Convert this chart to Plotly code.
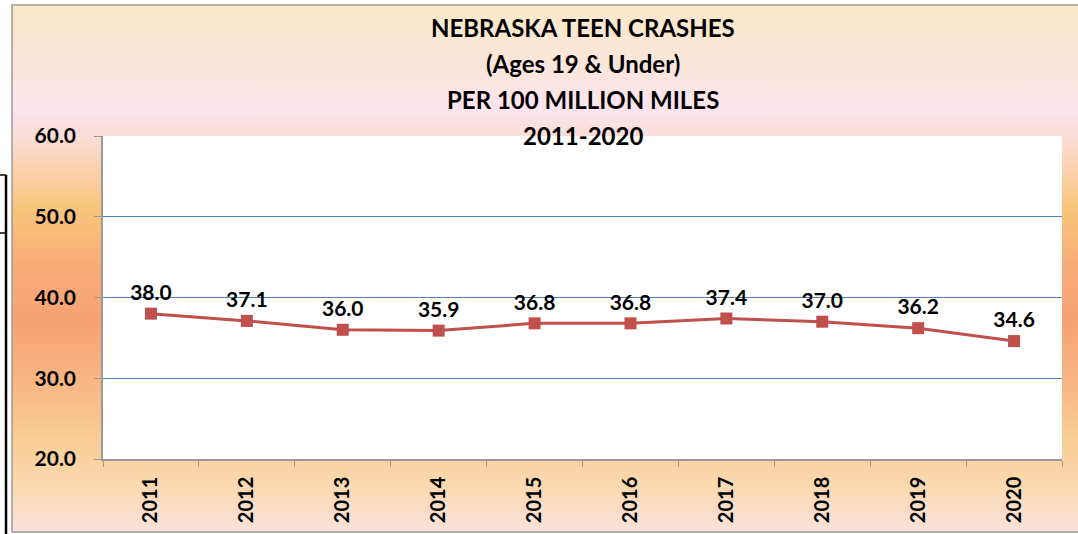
import base64
import plotly.graph_objects as go

years = ["2011", "2012", "2013", "2014", "2015", "2016", "2017", "2018", "2019", "2020"]
rates = [38.0, 37.1, 36.0, 35.9, 36.8, 36.8, 37.4, 37.0, 36.2, 34.6]
title_lines = ["NEBRASKA TEEN CRASHES", "(Ages 19 & Under)", "PER 100 MILLION MILES", "2011-2020"]
y_ticks = [20, 30, 40, 50, 60]

W, H = 1078, 534
L, R, T, B = 103, 16, 136, 75
PW, PH = W - L - R, H - T - B

def px(x):
    return (x - L) / PW

def py(y):
    return (H - B - y) / PH

FONT = "Lato"
line_color = "#C0504D"

# vertical gradient background (chart area)
stops = [
    (0.00, "#FBE9C9"), (0.11, "#FCE6DA"), (0.20, "#FDE4EE"), (0.245, "#FBDEDA"),
    (0.32, "#FAD0A8"), (0.385, "#F9C57C"), (0.49, "#F8AD78"), (0.60, "#F7A374"),
    (0.72, "#F9B785"), (0.82, "#F9CD93"), (0.91, "#FBD9B0"), (1.00, "#FCE2DC"),
]
stop_xml = "".join(f'<stop offset="{o}" stop-color="{c}"/>' for o, c in stops)
svg = (f'<svg xmlns="http://www.w3.org/2000/svg" width="1066" height="527" preserveAspectRatio="none">'
       f'<defs><linearGradient id="g" x1="0" y1="0" x2="0" y2="1">{stop_xml}</linearGradient></defs>'
       f'<rect x="0" y="0" width="1066" height="527" fill="url(#g)"/></svg>')
src = "data:image/svg+xml;base64," + base64.b64encode(svg.encode()).decode()

fig = go.Figure()
fig.add_trace(go.Scatter(
    x=years, y=rates, mode="lines+markers+text",
    text=[f"<b>{v:.1f}</b>" for v in rates], textposition="top center",
    textfont=dict(family=FONT, size=21, color="black"),
    line=dict(color=line_color, width=3),
    marker=dict(symbol="square", size=12, color=line_color),
    cliponaxis=False, hoverinfo="skip",
))

annotations = []
for i, t in enumerate(title_lines):
    annotations.append(dict(
        text=f"<b>{t}</b>", xref="paper", yref="paper", x=0.5, y=py(27 + 36 * i),
        xanchor="center", yanchor="middle", showarrow=False,
        font=dict(family=FONT, size=24, color="black"),
    ))

shapes = [
    # white plot area
    dict(type="rect", xref="x domain", yref="y domain", x0=0, x1=1, y0=0, y1=1,
         fillcolor="white", line=dict(width=0), layer="below"),
    # chart border
    dict(type="rect", xref="paper", yref="paper", x0=px(12), x1=px(1079), y0=py(532), y1=py(5),
         line=dict(color="#9A9A9A", width=1.5), fillcolor="rgba(0,0,0,0)", layer="below"),
    # black lines at left
    dict(type="line", xref="paper", yref="paper", x0=px(6), x1=px(6), y0=py(175), y1=py(534),
         line=dict(color="black", width=2.5)),
    dict(type="line", xref="paper", yref="paper", x0=px(0), x1=px(6), y0=py(175), y1=py(175),
         line=dict(color="black", width=1.5)),
    dict(type="line", xref="paper", yref="paper", x0=px(0), x1=px(6), y0=py(233), y1=py(233),
         line=dict(color="black", width=1.5)),
]

fig.update_layout(
    width=W, height=H,
    margin=dict(l=L, r=R, t=T, b=B, pad=0),
    paper_bgcolor="white", plot_bgcolor="white",
    showlegend=False,
    images=[dict(source=src, xref="paper", yref="paper", x=px(12), y=py(5),
                 sizex=(1078 - 12) / PW, sizey=(532 - 5) / PH, sizing="stretch",
                 xanchor="left", yanchor="top", layer="below")],
    annotations=annotations,
    shapes=shapes,
    xaxis=dict(
        type="category", range=[-0.5, len(years) - 0.5], tickangle=-90,
        tickson="boundaries", ticks="outside",
        ticklen=6, tickcolor="#9A9A9A", showline=True, linecolor="#9A9A9A", linewidth=1.5,
        showgrid=False, tickfont=dict(family=FONT, size=20, color="black", weight="bold"),
        ticklabelstandoff=8,
    ),
    yaxis=dict(
        range=[20, 60], tickvals=y_ticks, ticktext=[f"<b>{v:.1f}</b>" for v in y_ticks],
        ticks="outside", ticklen=7, tickcolor="#9A9A9A", showline=True,
        linecolor="#9A9A9A", linewidth=1.5, showgrid=True, gridcolor="#4F81BD", gridwidth=1,
        zeroline=False, tickfont=dict(family=FONT, size=21, color="black"),
        ticklabelstandoff=14,
    ),
)

fig.write_html("out.html", config={"displayModeBar": False},
               post_script="document.body.style.margin='0';")
